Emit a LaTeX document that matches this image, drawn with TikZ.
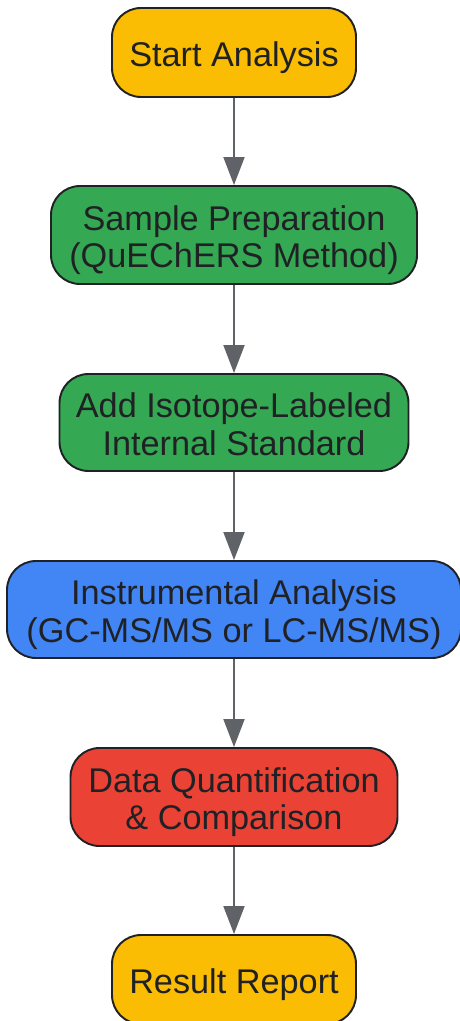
\documentclass[tikz,border=0pt]{standalone}
\usepackage{fontspec}
\setmainfont{Liberation Sans}
\usetikzlibrary{arrows.meta}
\definecolor{stepyellow}{HTML}{FBBC04}
\definecolor{stepgreen}{HTML}{34A853}
\definecolor{stepblue}{HTML}{4285F4}
\definecolor{stepred}{HTML}{EA4335}
\definecolor{edgedark}{HTML}{202124}
\definecolor{arrowgray}{HTML}{5F6368}

\begin{document}
\begin{tikzpicture}[
    stepnode/.style={draw=edgedark,line width=1.1pt,rounded corners=0.58cm,
      align=center,text=edgedark,inner sep=0pt,
      font=\fontsize{19.5}{21.5}\selectfont,
      execute at begin node=\rule{0pt}{0.71cm},
      execute at end node=\rule[-0.14cm]{0pt}{0pt}},
    twoline/.style={execute at begin node=\rule{0pt}{1.46cm}},
    flowarrow/.style={color=arrowgray,line width=1.1pt,
      -{Triangle[width=0.42cm,length=0.56cm]}}]
  \useasboundingbox (0,0) rectangle (9.18,-20.42);
  \node[stepnode,fill=stepyellow,minimum width=4.88cm,minimum height=1.78cm] (start) at (4.68,-1.05) {Start Analysis};
  \node[stepnode,twoline,fill=stepgreen,minimum width=7.32cm,minimum height=1.96cm] (prep) at (4.68,-4.70) {Sample Preparation\\(QuEChERS Method)};
  \node[stepnode,twoline,fill=stepgreen,minimum width=6.98cm,minimum height=1.94cm] (istd) at (4.68,-8.45) {Add Isotope-Labeled\\Internal Standard};
  \node[stepnode,twoline,fill=stepblue,minimum width=9.08cm,minimum height=1.94cm] (instr) at (4.68,-12.19) {Instrumental Analysis\\(GC-MS/MS or LC-MS/MS)};
  \node[stepnode,twoline,fill=stepred,minimum width=6.54cm,minimum height=1.96cm] (quant) at (4.68,-15.94) {Data Quantification\\\& Comparison};
  \node[stepnode,fill=stepyellow,minimum width=4.88cm,minimum height=1.78cm] (report) at (4.68,-19.59) {Result Report};
  \path[flowarrow] (start) edge (prep);
  \path[flowarrow] (prep) edge (istd);
  \path[flowarrow] (istd) edge (instr);
  \path[flowarrow] (instr) edge (quant);
  \path[flowarrow] (quant) edge (report);
\end{tikzpicture}
\end{document}
